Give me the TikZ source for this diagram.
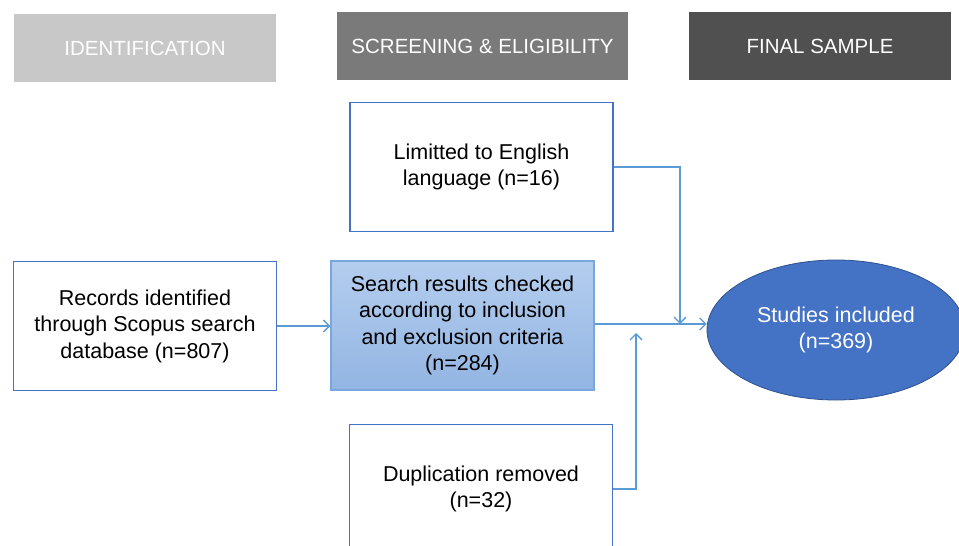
\documentclass[tikz,border=0pt]{standalone}
\usepackage{fontspec}
\setmainfont{Liberation Sans}
\usetikzlibrary{arrows.meta,shapes.geometric,positioning}
\definecolor{hdrA}{HTML}{C8C8C8}
\definecolor{hdrB}{HTML}{7A7A7A}
\definecolor{hdrC}{HTML}{505050}
\definecolor{boxblue}{HTML}{4472C4}
\definecolor{linkblue}{HTML}{5B9BD5}
\definecolor{srchtop}{HTML}{B3CDEE}
\definecolor{srchbot}{HTML}{93B5E3}
\definecolor{srchedge}{HTML}{7AA6DF}
\definecolor{elledge}{HTML}{2F528F}
\tikzset{
  hdr/.style={minimum height=68pt, inner sep=0pt, text=white, font=\fontsize{20.5}{24}\selectfont},
  flowbox/.style={draw=boxblue, line width=1.4pt, fill=white, minimum width=263pt, minimum height=129pt, inner sep=0pt, align=center, font=\fontsize{21.5}{26.5}\selectfont},
  link/.style={draw=linkblue, line width=1.3pt, -{Straight Barb[length=6pt,width=12pt,line width=1.3pt]}}
}
\begin{document}
\begin{tikzpicture}[x=1pt,y=-1pt]
\useasboundingbox (0,0) rectangle (959,546);
\clip (0,0) rectangle (959,546);
\fill[white] (0,0) rectangle (959,546);
% headers
\node[hdr, fill=hdrA, minimum width=262pt] (h1) at (145,48) {IDENTIFICATION};
\node[hdr, fill=hdrB, minimum width=291pt] (h2) at (482.5,46) {SCREENING \& ELIGIBILITY};
\node[hdr, fill=hdrC, minimum width=262pt] (h3) at (820,46) {FINAL SAMPLE};
% boxes
\node[flowbox] (lim) at (481.5,167) {Limitted to English\\language (n=16)};
\node[flowbox] (rec) at (145,326) {Records identified\\through Scopus search\\database (n=807)};
\node[flowbox, draw=srchedge, top color=srchtop, bottom color=srchbot] (srch) at (462.5,325.5) {Search results checked\\according to inclusion\\and exclusion criteria\\(n=284)};
\node[flowbox] (dup) at (481,489) {Duplication removed\\(n=32)};
\node[ellipse, draw=elledge, line width=0.8pt, fill=boxblue, minimum width=258pt, minimum height=140pt, inner sep=0pt, align=center, text=white, font=\fontsize{21.5}{26.5}\selectfont] (stud) at (836,330) {Studies included\\(n=369)};
% connectors
\coordinate (mergeA) at (680,324);
\coordinate (mergeB) at (636,333);
\draw[link] (rec.east |- 0,326) -- (srch.west |- 0,326);
\draw[link] (srch.east |- 0,324) -- (stud.west |- 0,324);
\draw[link] (lim.east |- 0,167) -| (mergeA);
\draw[link] (dup.east |- 0,489) -| (mergeB);
\end{tikzpicture}
\end{document}
